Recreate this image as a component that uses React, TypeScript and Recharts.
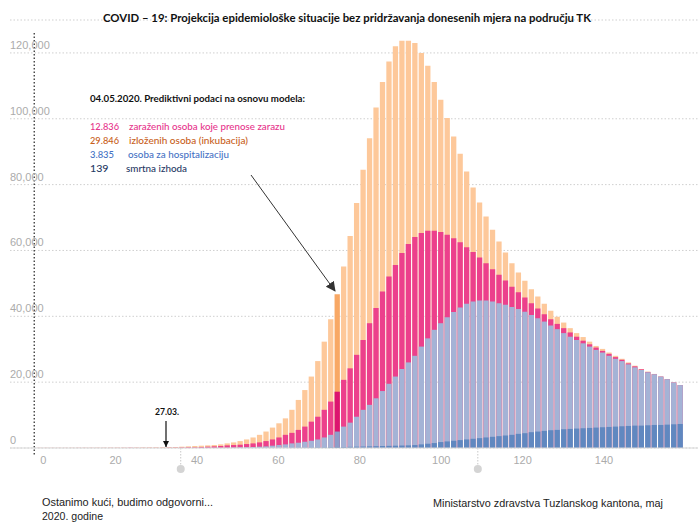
import React from 'react'
import { BarChart, Bar, XAxis, YAxis, CartesianGrid, Cell, ReferenceLine, ReferenceDot } from 'recharts'

// values in thousands of persons, one bar per model step
const exposed = [
  0, 0, 0, 0,
  0.05, 0.05, 0.05, 0.05, 0.05, 0.06, 0.06, 0.07, 0.07, 0.08, 0.08, 0.09, 0.1, 0.1, 0.11, 0.12, 0.14, 0.16, 0.18,
  0.2, 0.25, 0.3, 0.4, 0.5, 0.6, 0.7, 0.8, 0.9, 1.1, 1.4, 1.7, 2.1, 2.6, 3.2, 4.0, 5.0, 6.2, 7.5, 9.0,
  11.6, 14.6, 17.6, 21.7, 26.4, 32.3, 39.1, 46.7, 55.1, 64.4, 74.4, 84.5, 94.1, 103.4, 111.2, 117.4, 122.0, 123.7, 123.7,
  123.0, 120.0, 116.1, 111.2, 105.8, 100.2, 94.6, 89.4, 84.0, 79.1, 74.6, 70.3, 66.3, 62.7, 59.4, 56.1, 53.3, 50.8, 48.2, 46.0,
  43.8, 41.7, 39.9, 38.1, 36.4, 34.9, 33.7, 32.3, 31.0, 30.1, 29.0, 28.0, 27.1, 26.0, 25.0, 24.0, 23.2, 22.5, 21.7, 20.9, 19.9, 19.1,
]
const infectious = [
  0, 0, 0, 0,
  0.02, 0.02, 0.02, 0.02, 0.02, 0.02, 0.03, 0.03, 0.03, 0.03, 0.03, 0.04, 0.04, 0.04, 0.04, 0.05, 0.05, 0.05, 0.05,
  0.05, 0.1, 0.1, 0.15, 0.2, 0.2, 0.3, 0.4, 0.5, 0.6, 0.8, 0.9, 1.0, 1.2, 1.4, 1.7, 2.1, 2.6, 3.2, 4.0,
  4.6, 5.5, 6.5, 8.0, 9.5, 11.6, 14.1, 17.1, 20.7, 24.2, 28.3, 32.8, 37.9, 42.5, 47.5, 52.1, 55.6, 59.2, 62.0,
  64.1, 65.3, 66.0, 66.0, 65.6, 64.8, 63.7, 62.5, 61.0, 59.5, 57.9, 56.1, 54.3, 52.6, 50.9, 49.0, 47.3, 45.7, 44.0, 42.4,
  40.6, 39.1, 37.7, 36.4, 35.1, 33.8, 32.6, 31.5, 30.5, 29.5, 28.6, 27.6, 26.8, 25.7, 24.8, 23.9, 23.1, 22.4, 21.7, 20.9, 19.9, 19.1,
]
const hospital = [
  0, 0, 0, 0, 0, 0, 0, 0, 0, 0, 0, 0, 0, 0, 0, 0, 0, 0, 0, 0, 0, 0, 0, 0, 0, 0, 0, 0,
  0.03, 0.03, 0.05, 0.05, 0.08,
  0.1, 0.15, 0.2, 0.25, 0.3, 0.4, 0.5, 0.7, 0.9, 1.1,
  1.4, 1.6, 1.9, 2.2, 2.6, 3.2, 4.0, 5.0, 6.5, 7.7, 9.5, 11.6, 13.1, 15.1, 17.3, 19.5, 21.7, 24.0, 26.0,
  28.0, 30.8, 33.3, 35.9, 37.9, 39.7, 41.3, 42.7, 43.8, 44.5, 44.8, 44.8, 44.5, 44.0, 43.5, 42.8, 42.2, 41.4, 40.4, 39.4,
  38.4, 37.2, 36.1, 34.9, 33.8, 32.8, 31.8, 30.8, 29.8, 29.0, 28.0, 27.1, 26.4, 25.4, 24.5, 23.7, 23.0, 22.4, 21.7, 20.9, 19.9, 19.1,
]
const deaths = [
  0, 0, 0, 0, 0, 0, 0, 0, 0, 0, 0, 0, 0, 0, 0, 0, 0, 0, 0, 0, 0, 0, 0,
  0, 0, 0, 0, 0, 0, 0, 0, 0, 0, 0, 0, 0, 0, 0, 0, 0, 0, 0, 0,
  0.1, 0.1, 0.1, 0.15, 0.2, 0.2, 0.25, 0.3, 0.3, 0.35, 0.4, 0.45, 0.5, 0.55, 0.6, 0.65, 0.7, 0.75, 0.8,
  0.9, 1.1, 1.3, 1.5, 1.8, 2.0, 2.2, 2.4, 2.6, 2.8, 3.0, 3.2, 3.4, 3.6, 3.8, 4.0, 4.3, 4.5, 4.8, 5.0,
  5.2, 5.4, 5.5, 5.7, 5.8, 5.9, 6.0, 6.1, 6.2, 6.3, 6.4, 6.5, 6.6, 6.7, 6.8, 6.8, 6.9, 7.0, 7.0, 7.1, 7.2, 7.3,
]

const dayTicks = [0, 20, 40, 60, 80, 100, 120, 140]
const valueTicks = [0, 20, 40, 60, 80, 100, 120]
const markerDays = [36, 109]
const HIGHLIGHT = 50 // 04.05.2020.

const data = exposed.map((v, i) => ({
  k: i,
  exposed: v,
  infectious: infectious[i],
  hospital: hospital[i],
  deaths: deaths[i],
}))

const COLORS = {
  exposed: ['#FDC89A', '#F8A865'],
  infectious: ['#EC408C', '#DC1470'],
  hospital: ['#A4B3D6', '#8C9DC9'],
  deaths: ['#6088C0', '#4F78B4'],
}

const FONT = 'Liberation Sans, Arial, sans-serif'
const NOTE_FONT = 'Lato, sans-serif'

const ValueTick = (props: any) => {
  const { y, payload } = props
  return (
    <text x={10} y={y - 4} fill="#ababab" fontSize={11} fontFamily={FONT}>
      {(payload.value * 1000).toLocaleString('en-US')}
    </text>
  )
}

const DayTick = (props: any) => {
  const { x, y, payload } = props
  return (
    <text x={x + (payload.value === 0 ? 9 : 0)} y={y} dy="0.71em" textAnchor="middle" fill="#ababab" fontSize={11} fontFamily={FONT}>
      {payload.value}
    </text>
  )
}

const series = ['exposed', 'infectious', 'hospital', 'deaths'] as const

export default function App() {
  return (
    <div style={{ position: 'absolute', left: 0, top: 0, width: 700, height: 525, background: '#fff' }}>
      <BarChart
        width={700}
        height={525}
        data={data}
        margin={{ top: 20, right: 2, bottom: 47, left: 9 }}
        barSize={5.3}
        barGap={-5.3}
        barCategoryGap={0}
      >
        <CartesianGrid xAxisId="t" vertical={false} stroke="#cfcfcf" strokeDasharray="1.5 2" />
        <XAxis xAxisId="bars" dataKey="k" type="category" hide height={0} padding={{ left: 0, right: 15 }} />
        <XAxis
          xAxisId="t"
          dataKey="dayPosition"
          type="number"
          scale="linear"
          domain={[-5.95, 163.1]}
          allowDataOverflow
          ticks={dayTicks}
          interval={0}
          tick={<DayTick />}
          tickLine={false}
          axisLine={{ stroke: '#d9d9d9' }}
          height={30}
        />
        <YAxis domain={[0, 130]} ticks={valueTicks} width={1} axisLine={false} tickLine={false} tick={<ValueTick />} allowDataOverflow />
        {series.map((s) => (
          <Bar key={s} xAxisId="bars" dataKey={s} fill={COLORS[s][0]} isAnimationActive={false}>
            {data.map((d) => (
              <Cell key={d.k} fill={COLORS[s][d.k === HIGHLIGHT ? 1 : 0]} />
            ))}
          </Bar>
        ))}
        <ReferenceLine
          xAxisId="t"
          segment={[{ x: 0, y: -2 }, { x: 0, y: 126.5 }]}
          ifOverflow="visible"
          stroke="#222"
          strokeWidth={1.2}
          strokeDasharray="1.5 2"
        />
        {markerDays.map((d) => (
          <ReferenceLine
            key={'l' + d}
            xAxisId="t"
            segment={[{ x: d, y: 0 }, { x: d, y: -5 }]}
            ifOverflow="visible"
            stroke="#c8c8c8"
            strokeDasharray="1.5 1.5"
          />
        ))}
        {markerDays.map((d) => (
          <ReferenceDot key={'d' + d} xAxisId="t" x={d} y={-6.4} r={4} fill="#d4d4d4" stroke="none" ifOverflow="visible" />
        ))}
      </BarChart>

      <svg width={700} height={525} style={{ position: 'absolute', left: 0, top: 0, pointerEvents: 'none' }}>
        <defs>
          <marker id="bigHead" markerWidth="10" markerHeight="10" refX="9" refY="5" orient="auto" markerUnits="userSpaceOnUse">
            <path d="M0,0 L10,5 L0,10 z" fill="#333" />
          </marker>
          <marker id="smallHead" markerWidth="6" markerHeight="6" refX="6" refY="3" orient="auto" markerUnits="userSpaceOnUse">
            <path d="M0,0 L6,3 L0,6 z" fill="#111" />
          </marker>
        </defs>
        <text x={103} y={22} fontFamily={NOTE_FONT} fontWeight="bold" fontSize={12} fill="#111" textLength={488} lengthAdjust="spacingAndGlyphs">
          COVID – 19: Projekcija epidemiološke situacije bez pridržavanja donesenih mjera na području TK
        </text>

        <text x={90} y={102} fontFamily={NOTE_FONT} fontWeight="bold" fontSize={10} fill="#111" textLength={215} lengthAdjust="spacingAndGlyphs">
          04.05.2020. Prediktivni podaci na osnovu modela:
        </text>
        <g fontFamily={NOTE_FONT} fontSize={10} fontWeight={500}>
          <text x={90} y={129.5} fill="#E6338B" textLength={29} lengthAdjust="spacingAndGlyphs">12.836</text>
          <text x={129} y={129.5} fill="#E6338B" textLength={156} lengthAdjust="spacingAndGlyphs">zaraženih osoba koje prenose zarazu</text>
          <text x={90} y={144} fill="#C8601A" textLength={29} lengthAdjust="spacingAndGlyphs">29.846</text>
          <text x={129} y={144} fill="#C8601A" textLength={119} lengthAdjust="spacingAndGlyphs">izloženih osoba (inkubacija)</text>
          <text x={90} y={157.5} fill="#4672C4" textLength={24} lengthAdjust="spacingAndGlyphs">3.835</text>
          <text x={128} y={157.5} fill="#4672C4" textLength={101} lengthAdjust="spacingAndGlyphs">osoba za hospitalizaciju</text>
          <text x={90} y={172} fill="#1F3864" textLength={18.5} lengthAdjust="spacingAndGlyphs">139</text>
          <text x={126} y={172} fill="#1F3864" textLength={61} lengthAdjust="spacingAndGlyphs">smrtna izhoda</text>
        </g>
        <line x1={251} y1={175} x2={335} y2={291} stroke="#333" strokeWidth={1} markerEnd="url(#bigHead)" />

        <text x={155} y={415} fontFamily={NOTE_FONT} fontWeight="bold" fontSize={10} fill="#111" textLength={24} lengthAdjust="spacingAndGlyphs">
          27.03.
        </text>
        <line x1={166} y1={421} x2={166} y2={447} stroke="#111" strokeWidth={1.2} markerEnd="url(#smallHead)" />

        <g fontFamily={FONT} fontSize={11} fill="#222">
          <text x={42} y={506} textLength={171} lengthAdjust="spacingAndGlyphs">Ostanimo kući, budimo odgovorni...</text>
          <text x={42} y={520} textLength={61} lengthAdjust="spacingAndGlyphs">2020. godine</text>
          <text x={433} y={507} textLength={230} lengthAdjust="spacingAndGlyphs">Ministarstvo zdravstva Tuzlanskog kantona, maj</text>
        </g>
      </svg>
    </div>
  )
}
